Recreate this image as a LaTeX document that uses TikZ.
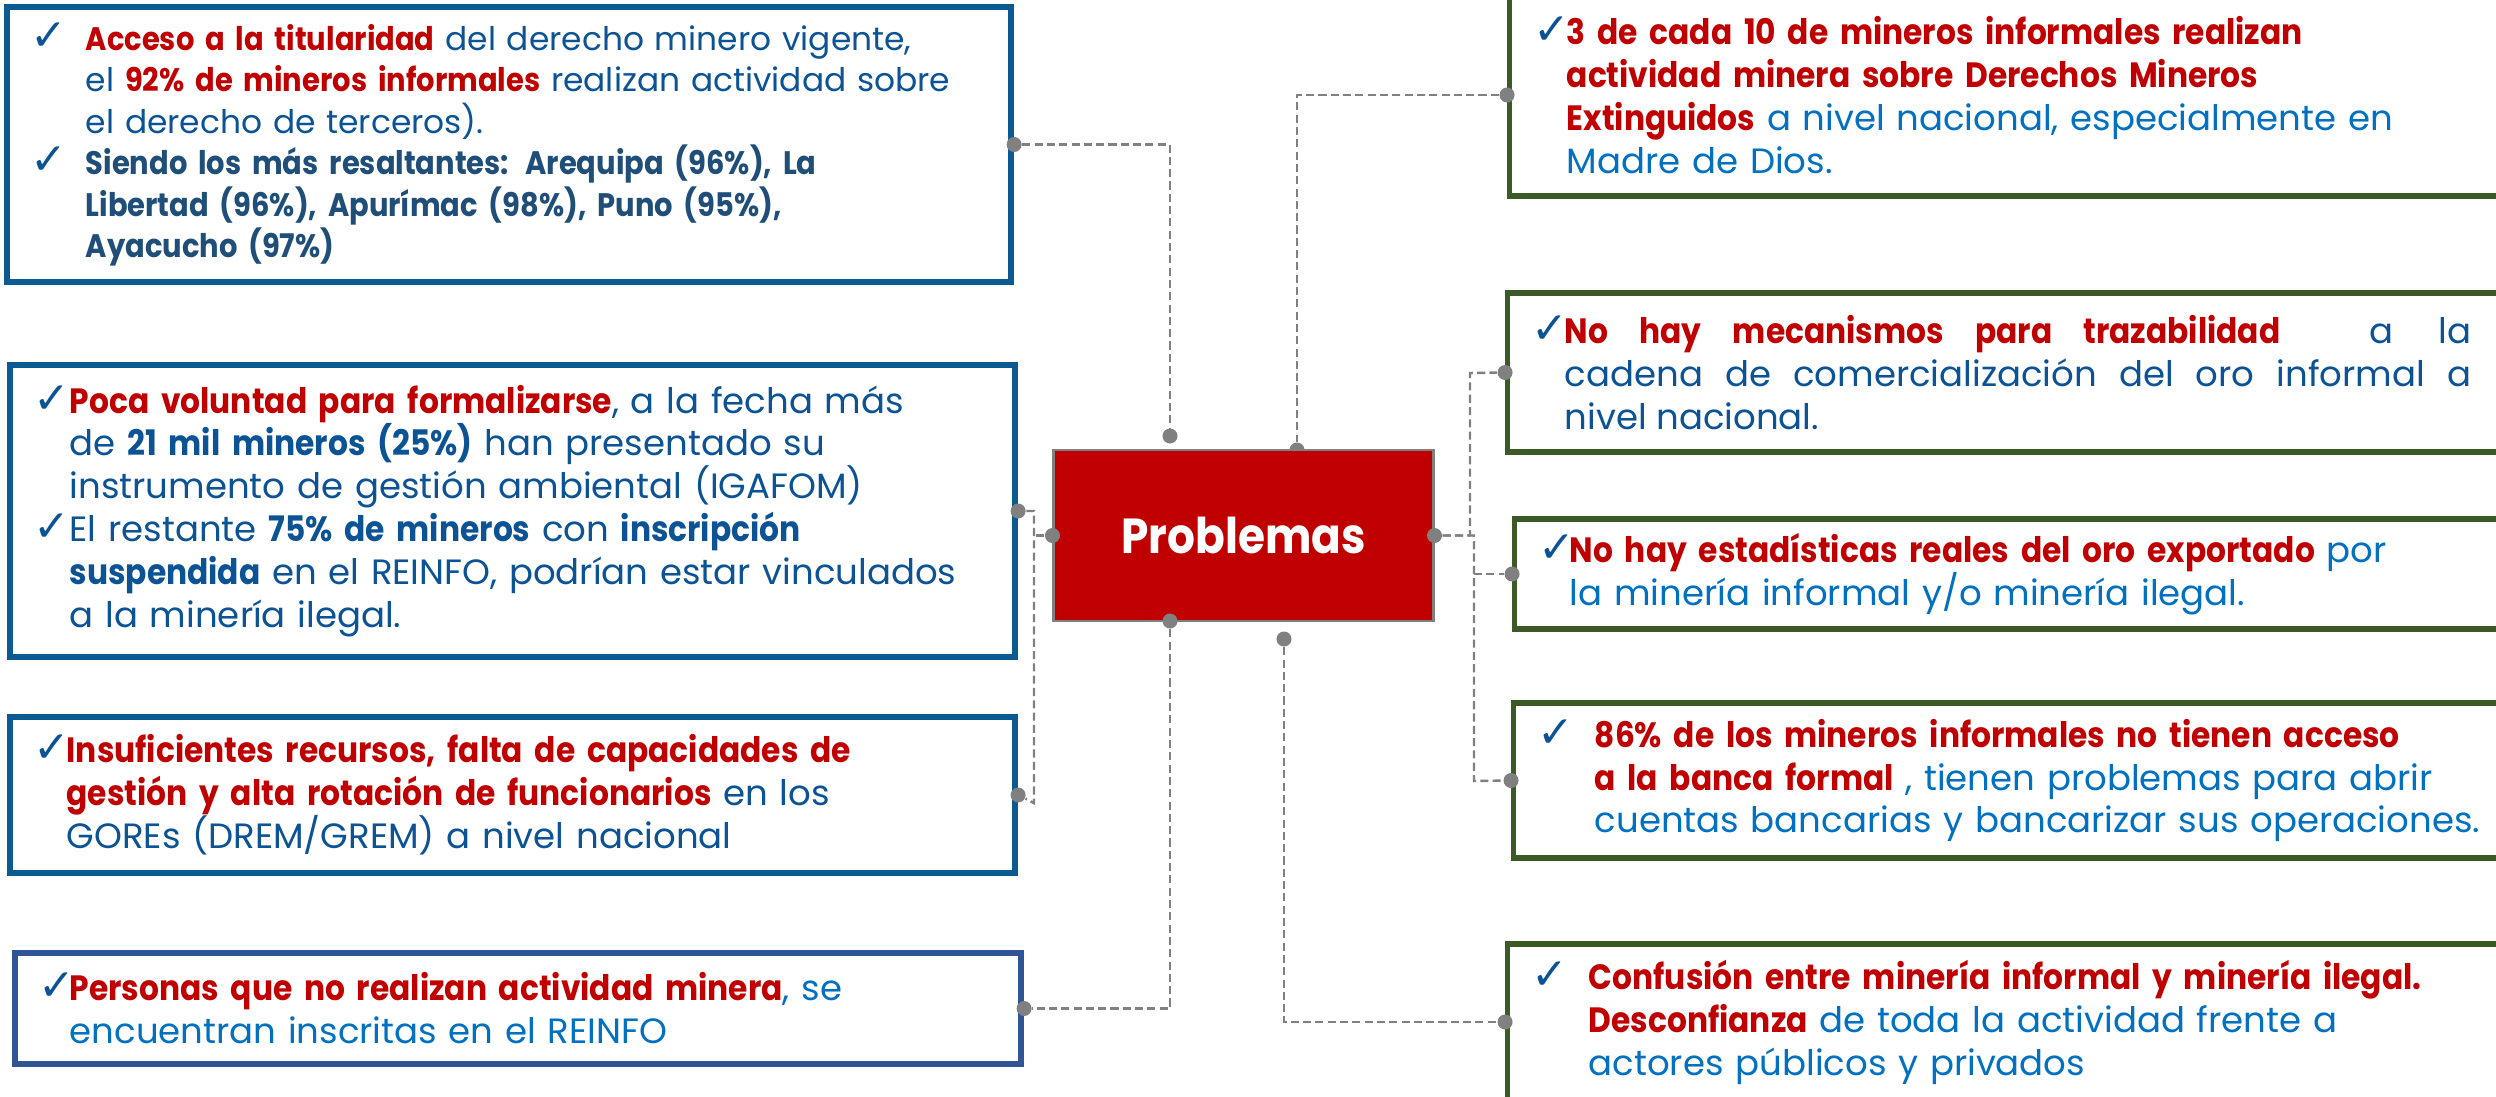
\documentclass[tikz,border=0pt]{standalone}
\usepackage{fontspec}
\usepackage{tikz}
\usepackage{xcolor}
\usetikzlibrary{positioning, calc, backgrounds}
\setmainfont{Poppins}[FakeStretch=1.01, BoldFeatures={FakeStretch=0.89}]
\newfontfamily\tickfont{DejaVu Sans}
\definecolor{BoxBlue}{HTML}{0C5A92}
\definecolor{BoxSteel}{HTML}{2F5597}
\definecolor{BoxGreen}{HTML}{3C5A26}
\definecolor{AlertRed}{HTML}{C00000}
\definecolor{TextBlue}{HTML}{0B5394}
\definecolor{TextNavy}{HTML}{1F4E79}
\definecolor{LightBlue}{HTML}{0070C0}
\definecolor{LinkGray}{HTML}{808080}
\newcommand{\redbf}[1]{\textcolor{AlertRed}{\textbf{#1}}}
\newcommand{\tick}{\textcolor{TextBlue}{\tickfont\fontsize{12.5}{12.2}\selectfont ✓}}
\newcommand{\tickitem}[2]{\leftskip=0.14cm\hangindent=#1\hangafter=1\noindent\makebox[#1][l]{\tick}#2\par}

\begin{document}
\begin{tikzpicture}[x=0.01cm, y=-0.01cm,
    txt/.style={font=\fontsize{10}{12.2}\selectfont},
    lbox/.style={txt, draw=BoxBlue, line width=1.6pt, text=TextBlue,
                 inner xsep=0.1cm, inner ysep=0pt, align=left},
    rbox/.style={txt, draw=BoxGreen, line width=1.5pt, text=LightBlue,
                 inner xsep=0.1cm, inner ysep=0pt, align=left},
    dot/.style={circle, fill=LinkGray, inner sep=0pt, minimum size=0.15cm},
    link/.style={draw=LinkGray, line width=0.7pt, dash pattern=on 2.3pt off 1.2pt}]
    \useasboundingbox (0,0) rectangle (2496,1096);

    % Left column
    \node[lbox, font=\fontsize{9.25}{11.8}\selectfont, minimum height=2.75cm, text width=9.84cm]
        (acceso) at (509,144.5) {%
        \tickitem{0.55cm}{\redbf{Acceso a la titularidad} del derecho minero vigente,\newline
            el \redbf{92\% de mineros informales} realizan actividad sobre\newline
            el derecho de terceros).}
        \tickitem{0.55cm}{\textcolor{TextNavy}{\textbf{Siendo los más resaltantes: Arequipa (96\%), La\newline
            Libertad (96\%), Apurímac (98\%), Puno (95\%),\newline
            Ayacucho (97\%)}}}};
    \node[lbox, minimum height=2.92cm, text width=9.85cm] (voluntad) at (512.5,511) {%
        \tickitem{0.36cm}{\redbf{Poca voluntad para formalizarse}, a la fecha más\newline
            de \textbf{21 mil mineros (25\%)} han presentado su\newline
            instrumento de gestión ambiental (IGAFOM)}
        \tickitem{0.36cm}{El restante \textbf{75\% de mineros} con \textbf{inscripción\newline
            suspendida} en el REINFO, podrían estar vinculados\newline
            a la minería ilegal.}};
    \node[lbox, minimum height=1.56cm, text width=9.85cm] (recursos) at (512.5,795) {%
        \tickitem{0.33cm}{\redbf{Insuficientes recursos, falta de capacidades de\newline
            gestión y alta rotación de funcionarios} en los\newline
            GOREs (DREM/GREM) a nivel nacional}};
    \node[lbox, draw=BoxSteel, text=LightBlue, minimum height=1.11cm, text width=9.86cm]
        (personas) at (518,1008.5) {%
        \tickitem{0.31cm}{\redbf{Personas que no realizan actividad minera}, se\newline
            encuentran inscritas en el REINFO}};

    % Right column (boxes run past the right edge)
    \node[rbox, minimum height=2.02cm, text width=10.0cm] (extintos) at (2020,95) {%
        \tickitem{0.33cm}{\redbf{3 de cada 10 de mineros informales realizan\newline
            actividad minera sobre Derechos Mineros\newline
            Extinguidos} a nivel nacional, especialmente en\newline
            Madre de Dios.}};
    \node[rbox, text=TextBlue, align=justify, minimum height=1.59cm, text width=10.02cm]
        (trazab) at (2019,372.5) {%
        \tickitem{0.33cm}{\rightskip=0.49cm\redbf{No hay mecanismos para trazabilidad}\ \ a la\linebreak
            cadena de comercialización del oro informal a\linebreak
            nivel nacional.}};
    \node[rbox, minimum height=1.10cm, text width=9.95cm] (estad) at (2022.5,574) {%
        \tickitem{0.31cm}{\redbf{No hay estadísticas reales del oro exportado} por\newline
            la minería informal y/o minería ilegal.}};
    \node[rbox, minimum height=1.55cm, text width=9.96cm] (banca) at (2022,780.5) {%
        \tickitem{0.57cm}{\redbf{86\% de los mineros informales no tienen acceso\newline
            a la banca formal} , tienen problemas para abrir\newline
            cuentas bancarias y bancarizar sus operaciones.}};
    \node[rbox, minimum height=1.56cm, text width=10.02cm] (confusion) at (2019,1022) {%
        \tickitem{0.57cm}{\redbf{Confusión entre minería informal y minería ilegal.\newline
            Desconfianza} de toda la actividad frente a\newline
            actores públicos y privados}};

    % Central problem
    \node[fill=AlertRed, draw=LinkGray, line width=0.8pt, minimum width=3.79cm,
          minimum height=1.71cm, text=white, font=\fontsize{14}{17}\selectfont\bfseries]
        (prob) at (1243.5,535.5) {Problemas};

    % Dots
    \node[dot] (dAcc) at (acceso.east) {};
    \node[dot] (dVol) at (voluntad.east) {};
    \node[dot] (dRec) at (recursos.east) {};
    \node[dot] (dPer) at (personas.east) {};
    \node[dot] (dExt) at (extintos.west) {};
    \node[dot] (dTra) at (trazab.west) {};
    \node[dot] (dEst) at (estad.west) {};
    \node[dot] (dBan) at (banca.west) {};
    \node[dot] (dConf) at (confusion.west) {};
    \node[dot] (pW) at (prob.west) {};
    \node[dot] (pE) at (prob.east) {};
    \node[dot] (pS) at (1170,621) {};
    \node[dot] (upper) at (1170,436) {};
    \node[dot] (lower) at (1284,639) {};
    \coordinate (jL) at (1034,803);
    \coordinate (jR1) at (1470,373);
    \coordinate (jR2) at (1474,781);

    % Dashed connectors
    \begin{scope}[on background layer]
        \fill[white] (0,0) rectangle (2496,1096);
        \node[dot] (pN) at (1297,450) {};
        \draw[link] (dAcc) -| (upper);
        \draw[link] (dExt) -| (pN);
        \draw[link] (dVol) -| (jL) -- (dRec);
        \draw[link] (pW) -- (pW -| jL);
        \draw[link] (pS) |- (dPer);
        \draw[link] (lower) |- (dConf);
        \draw[link] (pE) -| (jR1) -- (dTra);
        \draw[link] (pE) -| (jR2) -- (dBan);
        \draw[link] (jR2 |- dEst) -- (dEst);
    \end{scope}
\end{tikzpicture}
\end{document}
